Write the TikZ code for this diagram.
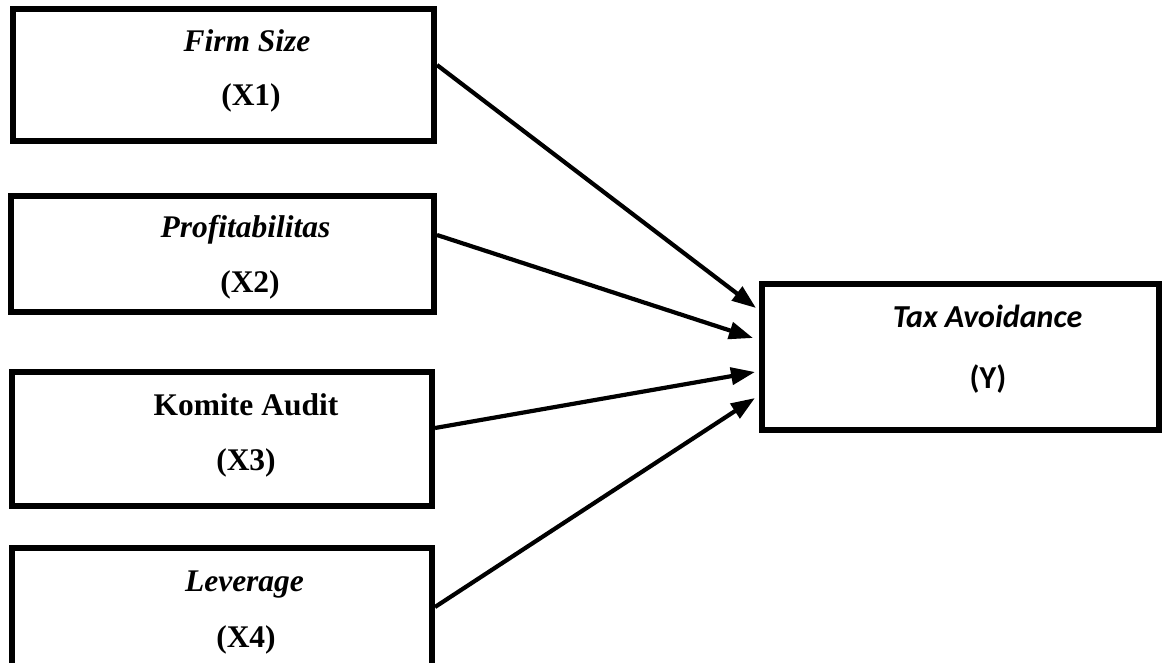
\documentclass[tikz,border=0pt]{standalone}
\usepackage{fontspec}
\setmainfont{Liberation Serif}
\newfontfamily\calib{Carlito}
\usetikzlibrary{arrows.meta}
\begin{document}
\begin{tikzpicture}[x=1pt,y=-1pt,
  varbox/.style={draw=black,line width=6pt,fill=white,inner sep=0pt,minimum width=#1},
  lbl/.style={anchor=base,inner sep=0pt,font=\fontsize{31.5}{35}\selectfont\bfseries},
  clbl/.style={anchor=base,inner sep=0pt,font=\fontsize{32}{36}\selectfont\calib\bfseries},
  link/.style={line width=4.2pt,-{Triangle[length=24pt,width=17pt]}}]
\useasboundingbox (0,0) rectangle (1165,663);
\node[varbox=421pt,minimum height=132pt] (b1) at (223.5,75) {};
\node[varbox=423pt,minimum height=116pt] (b2) at (222.5,254) {};
\node[varbox=420pt,minimum height=134pt] (b3) at (222,439) {};
\node[varbox=420pt,minimum height=132pt] (b4) at (222,614) {};
\node[varbox=397pt,minimum height=146pt] (y) at (960.5,357) {};
\node[lbl] (t1) at (247,52) {\itshape Firm Size};
\node[lbl] (x1) at (251,106) {(X1)};
\node[lbl] (t2) at (245.5,238) {\itshape Profitabilitas};
\node[lbl] (x2) at (250,292) {(X2)};
\node[lbl] (t3) at (246,415) {Komite Audit};
\node[lbl] (x3) at (246,470) {(X3)};
\node[lbl] (t4) at (244.5,591) {\itshape Leverage};
\node[lbl] (x4) at (246,647) {(X4)};
\node[clbl] (ty) at (987.5,327) {\itshape Tax Avoidance};
\node[clbl] (xy) at (988,388) {(Y)};
\draw[link] ([yshift=10pt]b1.east) -- ([xshift=-3pt,yshift=49pt]y.west);
\draw[link] ([yshift=19pt]b2.east) -- ([xshift=-6pt,yshift=19pt]y.west);
\draw[link] ([yshift=11pt]b3.east) -- ([xshift=-4pt,yshift=-15pt]y.west);
\draw[link] ([yshift=7pt]b4.east) -- ([xshift=-4pt,yshift=-41pt]y.west);
\end{tikzpicture}
\end{document}
